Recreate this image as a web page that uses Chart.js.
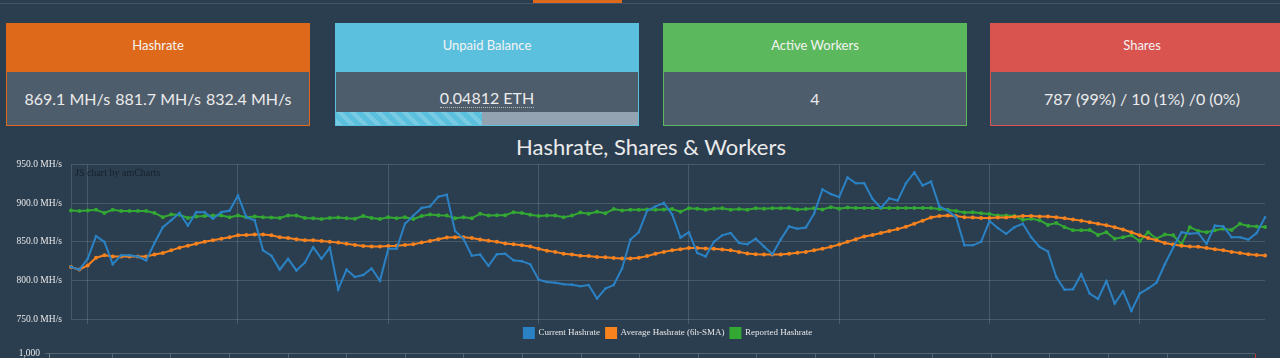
<!DOCTYPE html>
<html><head><meta charset="utf-8">
<script src="https://cdn.jsdelivr.net/npm/chart.js@4.4.0/dist/chart.umd.min.js"></script>
<style>
html,body{margin:0;padding:0;background:#2b3e50;width:1280px;height:358px;overflow:hidden;font-family:Lato,sans-serif;position:relative;}
.topline{position:absolute;left:0;top:3px;width:1280px;height:1px;background:#41556a;}
.tab{position:absolute;left:533px;top:0;width:89px;height:3px;background:#df691a;}
.card{position:absolute;top:23px;width:302px;height:101px;border:1px solid;}
.card .hd{height:48px;line-height:42px;text-align:center;color:#f4f4f4;font-size:13px;}
.card .bd{height:53px;background:#4e5d6c;text-align:center;color:#ebebeb;font-size:16px;line-height:54px;position:relative;overflow:hidden;}
.c1{left:6px;border-color:#df691a}.c1 .hd{background:#df691a}
.c2{left:335px;border-color:#5bc0de}.c2 .hd{background:#5bc0de}
.c3{left:663px;border-color:#5cb85c}.c3 .hd{background:#5cb85c}
.c4{left:990px;border-color:#d9534f}.c4 .hd{background:#d9534f}
.c1 .bd span{margin:0 0.5px;}
.c2 .bd{line-height:52px;}
.c2 .bd abbr{text-decoration:none;border-bottom:1px dotted #bbb;}
.prog{position:absolute;left:0;bottom:0;width:100%;height:13px;background:#94a3b2;}
.prog .bar{height:100%;width:48.3%;background-color:#5bc0de;background-image:linear-gradient(45deg,rgba(255,255,255,.18) 25%,transparent 25%,transparent 50%,rgba(255,255,255,.18) 50%,rgba(255,255,255,.18) 75%,transparent 75%,transparent);background-size:13px 13px;}
.title{position:absolute;left:451px;width:400px;top:132px;text-align:center;color:#ebebeb;font-size:22px;line-height:30px;}
#w1{position:absolute;left:0;top:150px;width:1280px;height:198px;}
#w2{position:absolute;left:0;top:343px;width:1280px;height:120px;}
.credit{position:absolute;left:75px;top:167px;font-family:"Liberation Serif",serif;font-size:10px;color:#17212c;}
</style></head>
<body>
<div class="topline"></div><div class="tab"></div>
<div class="card c1"><div class="hd">Hashrate</div><div class="bd"><span>869.1 MH/s</span> <span>881.7 MH/s</span> <span>832.4 MH/s</span></div></div>
<div class="card c2"><div class="hd">Unpaid Balance</div><div class="bd"><abbr>0.04812 ETH</abbr><div class="prog"><div class="bar"></div></div></div></div>
<div class="card c3"><div class="hd">Active Workers</div><div class="bd">4</div></div>
<div class="card c4"><div class="hd">Shares</div><div class="bd">787 (99%) / 10 (1%) /0 (0%)</div></div>
<div class="title">Hashrate, Shares &amp; Workers</div>
<div id="w1"><canvas id="c1"></canvas></div>
<div id="w2"><canvas id="c2"></canvas></div>
<div class="credit">JS chart by amCharts</div>
<script>
// 10-minute slots, starting 23:40
const timeLabels = [];
for (let i = 0; i < 144; i++) {
  const m = (23 * 60 + 40 + i * 10) % 1440;
  timeLabels.push(String(Math.floor(m / 60)).padStart(2, '0') + ':' + String(m % 60).padStart(2, '0'));
}
const currentHashrate = [
817.5,814,828,857.5,850,821,832.5,832.5,831,826,848.5,869,878,887.5,871,888.5,888.5,880,888.5,890.5,
910,882,878,839,832,814,828,813,823,843,828,842.5,788.5,814,804.5,807,815.5,799.5,841,841,
873.5,884,894,896,908.5,911,864,854,832,833.5,819,834,834.5,826,825,821,801,798,797,795,
794.5,792.5,794,776.5,789.5,794,815.5,853,862.5,890.5,896,900.5,885.5,855.5,862.5,835.5,831,850,858.5,861.5,
848.5,847,854,844,834,853,870,867,868.5,886.5,918,912,908,933.5,926,926,905.5,894,906.5,903.5,
926,940,923,928,896,890.5,882,845.5,845.5,850,877,868,860.5,869,873.5,856,843.5,837.5,804.5,788,
788.5,808,783,776,799,770,786,760.5,783,789.5,797,821,842.5,862.5,860.5,861.5,847.5,871,870,856,
856,853,861.5,881.7];
const averageHashrate = [
817.5,814,819.5,829.5,832.5,831,831,831,831,831,833.5,835.5,839,842.5,845,847.5,850,852,854,856,
858.5,859,859.5,859.5,858.5,856,855,853.5,852,852,851,850,849,847.5,846,844.5,844,844,844.5,845,
846,847,849,851,853.5,855.5,856,856,855,853,851.5,850,848,847,845.5,844,841,838.5,837,834.5,
833.5,832,831.5,830.5,830,829,828.5,828.5,829.5,831.5,834.5,837,839,840.5,842,842,841.5,841,840,839,
837,835,834,833.5,833.5,833.5,834.5,836,837,839,841,843.5,846.5,850,853.5,857,859,861.5,864,866.5,
869.5,873.5,877.5,881.5,883.5,884,883.5,882,881.5,881,881,881.5,881.5,882.5,883.5,883.5,883,883,882,880.5,
879,877.5,875.5,873.5,871.5,869,866,862.5,858.5,855,852,848.5,846.5,845,844,843.5,842,840.5,839,837,
835.5,834,833,832.4];
const reportedHashrate = [
890.5,890,890.5,891.5,887.5,891.5,890,890,890,890,887.5,882,885.5,885,881,883,883.5,884,884,882,
884,882,883,882,881.5,881,884,884,881,880.5,879.5,881,881.5,880.5,880,883.5,881,879.5,882,880.5,
882,879.5,883.5,885.5,884.5,884,880.5,882,880.5,886.5,884,884.5,884.5,888.5,887.5,885,883.5,884,884,882,
884,888,886.5,889,887,892.5,890.5,891.5,891.5,892,891.5,892,892.5,889,893.5,893,891.5,893,893.5,891.5,
892.5,891.5,893.5,893,893.5,893.5,894,892,892.5,893.5,892,895,893,894.5,894,894,894,894,894,894,
894,894,894,894,892.5,891.5,890,888,888.5,887,886,884,884,883.5,878.5,880,878,872,874.5,869,
865,865,865.5,859,862.5,854,856,858.5,851,862.5,854,859.5,858.5,847,869,864,862.5,865,867,865.5,
873.5,870.5,870,869.1];
const yTicks = [750, 800, 850, 900, 950];
const seriesNames = ['Current Hashrate', 'Average Hashrate (6h-SMA)', 'Reported Hashrate'];
const seriesColors = ['#2a82c4', '#f7821e', '#33a833'];

const serif = '"Liberation Serif", "DejaVu Serif", serif';
const gridCol = 'rgba(255,255,255,0.14)';

function isGridLabel(lbl) {
  const h = parseInt(lbl.slice(0, 2), 10), m = lbl.slice(3);
  return m === '00' && h % 3 === 0;
}

// center the legend under the plot area (as amCharts does) instead of the canvas
const legendCenterPlugin = {
  id: 'legendCenter',
  afterLayout(chart) {
    const lg = chart.legend;
    if (!lg) return;
    const areaCenter = (chart.chartArea.left + chart.chartArea.right) / 2;
    const dx = areaCenter - (lg.left + lg.right) / 2;
    lg.left += dx; lg.right += dx;
  }
};

new Chart(document.getElementById('c1'), {
  type: 'line',
  data: {
    labels: timeLabels,
    datasets: [
      {label: seriesNames[0], data: currentHashrate, borderColor: seriesColors[0], backgroundColor: seriesColors[0], borderWidth: 2, pointRadius: 1.3, pointBorderWidth: 0, tension: 0},
      {label: seriesNames[1], data: averageHashrate, borderColor: seriesColors[1], backgroundColor: seriesColors[1], borderWidth: 2, pointRadius: 2, pointBorderWidth: 0, tension: 0},
      {label: seriesNames[2], data: reportedHashrate, borderColor: seriesColors[2], backgroundColor: seriesColors[2], borderWidth: 2, pointRadius: 2, pointBorderWidth: 0, tension: 0}
    ]
  },
  plugins: [legendCenterPlugin],
  options: {
    responsive: true, maintainAspectRatio: false, animation: false, devicePixelRatio: 1,
    layout: {padding: {top: 13, right: 15, left: 0, bottom: 0}},
    plugins: {
      tooltip: {enabled: false},
      legend: {
        position: 'bottom',
        labels: {boxWidth: 10, boxHeight: 10, padding: 6, color: '#e8e8e8', font: {family: serif, size: 9}}
      }
    },
    scales: {
      x: {
        type: 'category', offset: false,
        ticks: {display: false, autoSkip: false},
        grid: {
          drawTicks: true, tickLength: 5,
          color: c => (c.tick && isGridLabel(timeLabels[c.index])) ? gridCol : 'rgba(0,0,0,0)'
        },
        border: {display: false},
        afterFit: s => { s.height = 3; }
      },
      y: {
        min: 750, max: 950,
        afterBuildTicks: s => { s.ticks = yTicks.map(v => ({value: v})); },
        ticks: {padding: 9, color: '#e8e8e8', font: {family: serif, size: 9.5}, callback: v => Number(v).toFixed(1) + ' MH/s'},
        grid: {color: gridCol, drawTicks: false},
        border: {display: true, color: gridCol},
        afterFit: s => { s.width = 71; }
      }
    }
  }
});

// lower (partially visible) chart
const lowerYTicks = [0, 1000];
const lowerXMin = -1.08, lowerXMax = 19.5;
new Chart(document.getElementById('c2'), {
  type: 'line',
  data: {datasets: []},
  options: {
    responsive: true, maintainAspectRatio: false, animation: false, devicePixelRatio: 1,
    layout: {padding: {top: 9, right: 25, left: 0, bottom: 0}},
    plugins: {legend: {display: false}, tooltip: {enabled: false}},
    scales: {
      x: {
        type: 'linear', min: lowerXMin, max: lowerXMax,
        ticks: {display: false, stepSize: 1},
        grid: {drawTicks: false, color: c => (c.tick && c.tick.value === lowerXMax) ? '#c0392b' : 'rgba(255,255,255,0.2)'},
        border: {display: false}
      },
      y: {
        min: 0, max: 1000,
        afterBuildTicks: s => { s.ticks = lowerYTicks.map(v => ({value: v})); },
        ticks: {padding: 5, color: '#e8e8e8', font: {family: serif, size: 9.5}, callback: v => Number(v).toLocaleString('en-US')},
        grid: {color: 'rgba(255,255,255,0.2)', drawTicks: true, tickLength: 4},
        border: {display: true, color: 'rgba(255,255,255,0.2)'},
        afterFit: s => { s.width = 49; }
      }
    }
  }
});
</script>
</body></html>
